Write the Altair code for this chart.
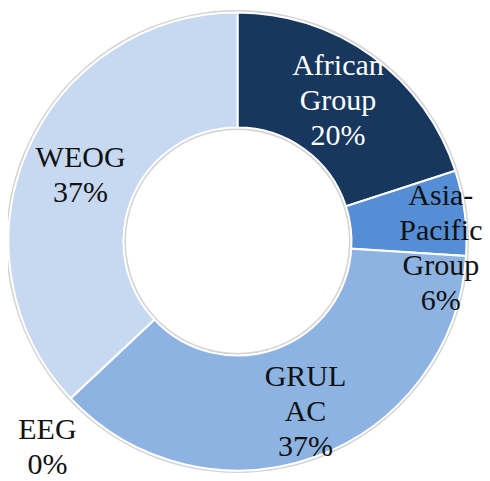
import altair as alt
import pandas as pd

# data
groups = ["African Group", "Asia-Pacific Group", "GRULAC", "EEG", "WEOG"]
shares = [20, 6, 37, 0, 37]
name_lines = [["African", "Group"], ["Asia-", "Pacific", "Group"], ["GRUL", "AC"], ["EEG"], ["WEOG"]]
colors = ["#17375E", "#558ED5", "#8DB3E2", "#A6A6A6", "#C6D9F1"]

df = pd.DataFrame({
    "group": groups,
    "share": shares,
    "idx": list(range(len(groups))),
    "lines": [nl + [f"{s}%"] for nl, s in zip(name_lines, shares)],
})

FONT = "Liberation Serif"
OUTER, INNER = 229, 114
LH = 35

base = alt.Chart(df)

rim = alt.Chart(pd.DataFrame({"v": [1]})).mark_arc(
    theta=0, theta2=6.2832, radius=OUTER + 2.5, radius2=INNER - 2.5
).encode(color=alt.value("#d4d4d4"))

arcs = base.mark_arc(radius=OUTER, radius2=INNER, stroke="white", strokeWidth=2).encode(
    theta=alt.Theta("share:Q", stack=True, scale=alt.Scale(domain=[0, 100])),
    color=alt.Color("group:N", scale=alt.Scale(domain=groups, range=colors), legend=None),
    order=alt.Order("idx:Q"),
)


def label(name, r, dx=0, dy=0):
    n = len(name_lines[groups.index(name)]) + 1
    return (
        base.transform_window(cum="sum(share)", sort=[alt.SortField("idx")], frame=[None, 0])
        .transform_calculate(mid="datum.cum - datum.share / 2")
        .transform_filter(alt.datum.group == name)
        .mark_text(radius=r, dx=dx, dy=dy - (n - 1) * LH / 2, font=FONT, fontSize=30, lineHeight=LH,
                   align="center", baseline="middle")
        .encode(
            theta=alt.Theta("mid:Q", stack=False, scale=alt.Scale(domain=[0, 100])),
            text="lines:N",
            color=alt.value("white" if name == "African Group" else "#111111"),
        )
    )


chart = alt.layer(
    rim,
    arcs,
    label("African Group", 171, dy=-2),
    label("WEOG", 171, dy=2),
    label("GRULAC", 183, dx=6, dy=-2),
    label("Asia-Pacific Group", 210, dx=-5, dy=33),
    label("EEG", 280, dx=14, dy=14),
).properties(
    width=459, height=467,
    padding={"left": 0, "top": 0, "right": 15, "bottom": 6},
    autosize=alt.AutoSizeParams(type="none"),
).configure_view(stroke=None)

chart.save("out.html", embed_options={"renderer": "svg", "actions": False})
